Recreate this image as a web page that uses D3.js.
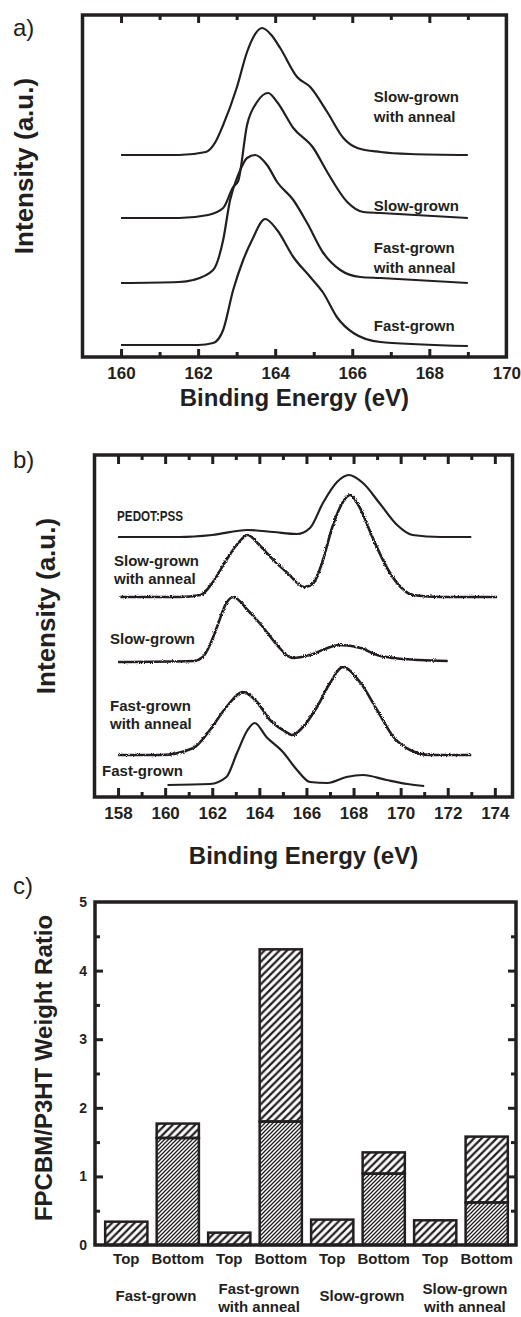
<!DOCTYPE html>
<html>
<head>
<meta charset="utf-8">
<script src="https://cdn.jsdelivr.net/npm/d3@7"></script>
<style>
  body { margin: 0; background: #fff; }
  svg { display: block; font-family: "Liberation Sans", Arial, Helvetica, sans-serif; }
</style>
</head>
<body>
<svg id="chart" width="521" height="1317"></svg>
<script>
// ---- panel a: S 2p spectra, [binding energy (eV), intensity (a.u., offset)]
let aSlowAnneal = [[160,20.2],[161.5,20.2],[162.2,20.5],[162.45,21.5],[162.65,23.2],[163.0,26.9],[163.27,30.5],[163.45,32.1],[163.66,32.9],[163.9,32.2],[164.13,30.9],[164.57,28.0],[164.91,27.0],[165.35,24.5],[165.77,21.9],[166.13,20.9],[166.73,20.5],[167.5,20.3],[169,20.2]]
let aSlow = [[160,13.9],[161.5,13.9],[162.26,14.2],[162.65,14.9],[162.91,17.0],[163.04,17.6],[163.27,23.2],[163.53,25.5],[163.82,26.4],[164.05,25.5],[164.47,22.9],[164.99,20.9],[165.35,18.5],[165.87,15.5],[166.29,14.5],[166.73,14.4],[169,13.9]]
let aFastAnneal = [[160,7.4],[161.5,7.5],[161.87,7.7],[162.39,8.7],[162.65,11.7],[162.83,15.7],[163.04,18.2],[163.27,19.9],[163.48,20.2],[163.79,19.2],[164.05,17.5],[164.47,15.7],[164.83,13.4],[165.25,10.4],[165.69,8.7],[166.21,8.0],[166.73,7.9],[169,7.4]]
let aFast = [[160,1.2],[162.0,1.2],[162.39,1.4],[162.65,2.7],[162.91,6.7],[163.17,9.7],[163.4,11.7],[163.74,13.8],[164.05,12.7],[164.47,10.0],[164.91,8.0],[165.25,6.4],[165.6,4.0],[166.03,2.4],[166.73,1.5],[169,1.1]]
let aLabels = [['Slow-grown', 'with anneal'], ['Slow-grown'], ['Fast-grown', 'with anneal'], ['Fast-grown']]
let aTickLabels = [160, 162, 164, 166, 168, 170]

// ---- panel b
let bPedot = [[158,26.0],[160.6,26.0],[162.0,26.2],[163.5,26.7],[164.6,26.5],[165.6,26.3],[166.15,26.9],[166.7,29.4],[167.3,31.5],[167.8,32.2],[168.4,31.4],[169.1,29.4],[169.85,27.2],[170.5,26.2],[171.7,26.0],[173,26.0]]
let bSlowAnneal = [[158.1,20.0],[160.6,20.0],[161.5,20.2],[162.0,21.4],[162.6,23.7],[163.1,25.4],[163.5,26.2],[164.0,25.2],[164.6,23.7],[165.2,22.4],[165.9,21.0],[166.3,21.4],[166.7,23.7],[167.1,27.0],[167.55,29.5],[167.85,30.2],[168.25,29.0],[168.8,26.0],[169.4,23.0],[170.0,21.0],[170.5,20.2],[171.7,20.0],[174.1,20.0]]
let bSlow = [[158,13.5],[161.2,13.6],[161.6,14.0],[161.9,15.2],[162.2,17.0],[162.6,19.4],[162.9,20.0],[163.5,18.7],[164.15,17.0],[164.75,15.2],[165.4,13.9],[166.15,14.2],[166.9,14.9],[167.4,15.2],[168.3,14.9],[169.0,14.2],[169.7,13.9],[170.8,13.7],[172,13.6]]
let bFastAnneal = [[158,4.2],[159.8,4.2],[161.2,4.9],[161.9,6.7],[162.6,9.0],[163.3,10.5],[163.9,9.5],[164.45,7.7],[165.0,6.7],[165.4,6.2],[165.85,7.0],[166.45,9.0],[167.0,11.4],[167.55,13.0],[168.3,11.4],[169.0,8.7],[169.7,6.0],[170.4,4.7],[171.25,4.2],[173,4.2]]
let bFast = [[160.1,1.2],[161.9,1.3],[162.6,2.0],[163.05,4.4],[163.5,6.7],[163.8,7.4],[164.3,6.0],[165.0,4.5],[165.6,2.7],[166.15,1.5],[166.9,1.4],[167.7,2.0],[168.4,2.2],[169.4,1.7],[170.3,1.3],[171,1.1]]
let bLabels = [['PEDOT:PSS'], ['Slow-grown', 'with anneal'], ['Slow-grown'], ['Fast-grown', 'with anneal'], ['Fast-grown']]
let bTickLabels = [158, 160, 162, 164, 166, 168, 170, 172, 174]

// ---- panel c: weight ratio, bars split in a dense-hatched and a sparse-hatched part
let cPositions = ['Top', 'Bottom', 'Top', 'Bottom', 'Top', 'Bottom', 'Top', 'Bottom']
let cGroups = [['Fast-grown'], ['Fast-grown', 'with anneal'], ['Slow-grown'], ['Slow-grown', 'with anneal']]
let cLower = [0, 1.56, 0, 1.80, 0, 1.04, 0, 0.62]
let cUpper = [0.34, 0.21, 0.18, 2.51, 0.37, 0.31, 0.36, 0.96]
let cTicks = [0, 1, 2, 3, 4, 5]

const ink = '#231f20'
let svg = d3.select('#chart')
let defs = svg.append('defs')

function hatch(id, step, width) {
    defs.append('pattern')
        .attr('id', id)
        .attr('patternUnits', 'userSpaceOnUse')
        .attr('width', step).attr('height', step)
        .append('path')
        .attr('d', `M0,${step}L${step},0M${-step / 2},${step / 2}L${step / 2},${-step / 2}M${step / 2},${step * 1.5}L${step * 1.5},${step / 2}`)
        .attr('stroke', ink)
        .attr('stroke-width', width)
}
hatch('sparse', 7.5, 2.2)
hatch('dense', 4, 1.3)

// slight roughness for the noisy spectra
let rough = defs.append('filter').attr('id', 'rough')
    .attr('x', '-5%').attr('y', '-30%').attr('width', '110%').attr('height', '160%')
rough.append('feTurbulence').attr('type', 'fractalNoise').attr('baseFrequency', 1.1).attr('numOctaves', 1).attr('seed', 4).attr('result', 'n')
rough.append('feDisplacementMap').attr('in', 'SourceGraphic').attr('in2', 'n').attr('scale', 3.2)
    .attr('xChannelSelector', 'R').attr('yChannelSelector', 'G')

function tickAxis(g, axis, size) {
    g.call(axis)
    g.select('.domain').remove()
    g.attr('font-family', null)
    if (size) g.attr('font-size', size).attr('font-weight', 'bold')
    g.selectAll('line').attr('stroke', ink).attr('stroke-width', 3)
    g.selectAll('text').attr('fill', ink)
}

function drawSpectra(cfg) {
    let x = d3.scaleLinear().domain(cfg.xDomain).range([cfg.left, cfg.right])
    let y = d3.scaleLinear().domain([0, 34.2]).range([cfg.bottom, cfg.top])
    let line = d3.line().x(d => x(d[0])).y(d => y(d[1])).curve(d3.curveMonotoneX)

    cfg.series.forEach((s, i) => {
        svg.append('path')
            .attr('d', line(s))
            .attr('fill', 'none')
            .attr('stroke', ink)
            .attr('stroke-width', cfg.widths[i])
            .attr('stroke-linejoin', 'round')
            .attr('filter', cfg.noisy[i] ? 'url(#rough)' : null)
    })

    let minor = d3.range(cfg.xDomain[0] + 1, cfg.xDomain[1], 1).filter(v => !cfg.ticks.includes(v) && v <= cfg.lastTick)
    let major = cfg.ticks.filter(v => v < cfg.xDomain[1])

    svg.append('g').attr('transform', `translate(0,${cfg.bottom})`)
        .call(tickAxis, d3.axisBottom(x).tickValues(minor).tickSize(-cfg.minorLen).tickFormat(''))
    svg.append('g').attr('transform', `translate(0,${cfg.top})`)
        .call(tickAxis, d3.axisTop(x).tickValues(minor).tickSize(-cfg.minorLen).tickFormat(''))
    svg.append('g').attr('transform', `translate(0,${cfg.top})`)
        .call(tickAxis, d3.axisTop(x).tickValues(major).tickSize(-cfg.majorLen).tickFormat(''))
    let bottomAxis = svg.append('g').attr('transform', `translate(0,${cfg.bottom})`)
    bottomAxis.call(tickAxis, d3.axisBottom(x).tickValues(cfg.ticks).tickSize(-cfg.majorLen).tickPadding(10).tickFormat(d3.format('d')), 17)
    bottomAxis.selectAll('.tick').filter(d => d >= cfg.xDomain[1]).select('line').remove()

    svg.append('rect')
        .attr('x', cfg.left).attr('y', cfg.top)
        .attr('width', cfg.right - cfg.left).attr('height', cfg.bottom - cfg.top)
        .attr('fill', 'none').attr('stroke', ink).attr('stroke-width', 3.5)

    svg.append('text')
        .attr('x', (cfg.left + cfg.right) / 2).attr('y', cfg.titleY)
        .attr('text-anchor', 'middle')
        .attr('font-size', 24).attr('font-weight', 'bold').attr('fill', ink)
        .text('Binding Energy (eV)')

    svg.append('text')
        .attr('transform', `translate(${cfg.yTitleX},${(cfg.top + cfg.bottom) / 2 - 20}) rotate(-90)`)
        .attr('text-anchor', 'middle')
        .attr('font-size', 26).attr('font-weight', 'bold').attr('fill', ink)
        .text('Intensity (a.u.)')

    cfg.labels.forEach((lines, i) => {
        let at = cfg.labelAt[i]
        let t = svg.append('text')
            .attr('font-size', 15).attr('font-weight', 'bold').attr('fill', ink)
        lines.forEach((txt, j) => {
            let ts = t.append('tspan')
                .attr('x', x(at[0]))
                .attr('y', y(at[1]) + j * cfg.lineGap)
                .text(txt)
            if (txt === 'PEDOT:PSS') ts.attr('textLength', 66).attr('lengthAdjust', 'spacingAndGlyphs')
        })
    })

    svg.append('text')
        .attr('x', 13).attr('y', cfg.letterY)
        .attr('font-size', 24).attr('fill', ink)
        .text(cfg.letter)
}

drawSpectra({
    xDomain: [159, 170], left: 82.5, right: 506.4, top: 15, bottom: 357,
    ticks: aTickLabels, lastTick: 169,
    series: [aSlowAnneal, aSlow, aFastAnneal, aFast],
    widths: [2.2, 2.2, 2.2, 2.2], noisy: [false, false, false, false],
    majorLen: 8, minorLen: 5,
    titleY: 406, yTitleX: 33,
    labels: aLabels, labelAt: [[166.56, 25.5], [166.56, 14.6], [166.56, 10.4], [166.56, 2.6]], lineGap: 20,
    letter: 'a)', letterY: 36
})

drawSpectra({
    xDomain: [157, 174.75], left: 94.5, right: 512.5, top: 455, bottom: 797,
    ticks: bTickLabels, lastTick: 174,
    series: [bPedot, bSlowAnneal, bSlow, bFastAnneal, bFast],
    widths: [2.2, 2.6, 2.6, 2.6, 2.2], noisy: [false, true, true, true, false],
    majorLen: 9, minorLen: 5,
    titleY: 864, yTitleX: 55,
    labels: bLabels, labelAt: [[157.96, 27.6], [157.83, 23.1], [157.66, 15.3], [157.66, 8.6], [157.32, 2.1]], lineGap: 18,
    letter: 'b)', letterY: 468
})

// ---- panel c
let cLeft = 95, cRight = 516, cTop = 902, cBottom = 1245
let cx = d3.scaleBand().domain(d3.range(cPositions.length)).range([99, 514]).paddingInner(0.18).paddingOuter(0.12)
let cy = d3.scaleLinear().domain([0, 5]).range([cBottom, cTop])

let bars = svg.append('g').attr('stroke', ink).attr('stroke-width', 2.5)
cPositions.forEach((p, i) => {
    if (cLower[i] > 0) {
        bars.append('rect')
            .attr('x', cx(i)).attr('width', cx.bandwidth())
            .attr('y', cy(cLower[i])).attr('height', cy(0) - cy(cLower[i]))
            .attr('fill', 'url(#dense)')
    }
    bars.append('rect')
        .attr('x', cx(i)).attr('width', cx.bandwidth())
        .attr('y', cy(cLower[i] + cUpper[i])).attr('height', cy(cLower[i]) - cy(cLower[i] + cUpper[i]))
        .attr('fill', 'url(#sparse)')
})

let halves = d3.range(0.5, 5, 1)
let yLeft = svg.append('g').attr('transform', `translate(${cLeft},0)`)
yLeft.call(tickAxis, d3.axisLeft(cy).tickValues(cTicks).tickSize(-8).tickPadding(8).tickFormat(d3.format('d')), 14)
yLeft.selectAll('.tick').filter(d => d === 0 || d === 5).select('line').remove()
svg.append('g').attr('transform', `translate(${cLeft},0)`)
    .call(tickAxis, d3.axisLeft(cy).tickValues(halves).tickSize(-5).tickFormat(''))
svg.append('g').attr('transform', `translate(${cRight},0)`)
    .call(tickAxis, d3.axisRight(cy).tickValues(cTicks.slice(1, 5)).tickSize(-8).tickFormat(''))
svg.append('g').attr('transform', `translate(${cRight},0)`)
    .call(tickAxis, d3.axisRight(cy).tickValues(halves).tickSize(-5).tickFormat(''))

svg.append('rect')
    .attr('x', cLeft).attr('y', cTop)
    .attr('width', cRight - cLeft).attr('height', cBottom - cTop)
    .attr('fill', 'none').attr('stroke', ink).attr('stroke-width', 3.5)

svg.append('g').selectAll('text').data(cPositions).join('text')
    .attr('x', (d, i) => cx(i) + cx.bandwidth() / 2)
    .attr('y', 1264)
    .attr('text-anchor', 'middle')
    .attr('font-size', 15).attr('font-weight', 'bold').attr('fill', ink)
    .text(d => d)

cGroups.forEach((lines, g) => {
    let mid = (cx(2 * g) + cx(2 * g + 1) + cx.bandwidth()) / 2 + 4
    let t = svg.append('text')
        .attr('text-anchor', 'middle')
        .attr('font-size', 15).attr('font-weight', 'bold').attr('fill', ink)
    lines.forEach((txt, j) => {
        t.append('tspan')
            .attr('x', mid)
            .attr('y', lines.length === 1 ? 1301 : 1294 + j * 18)
            .text(txt)
    })
})

svg.append('text')
    .attr('transform', `translate(52,1068) rotate(-90)`)
    .attr('text-anchor', 'middle')
    .attr('font-size', 24).attr('font-weight', 'bold').attr('fill', ink)
    .text('FPCBM/P3HT Weight Ratio')

svg.append('text')
    .attr('x', 13).attr('y', 894)
    .attr('font-size', 24).attr('fill', ink)
    .text('c)')
</script>
</body>
</html>
